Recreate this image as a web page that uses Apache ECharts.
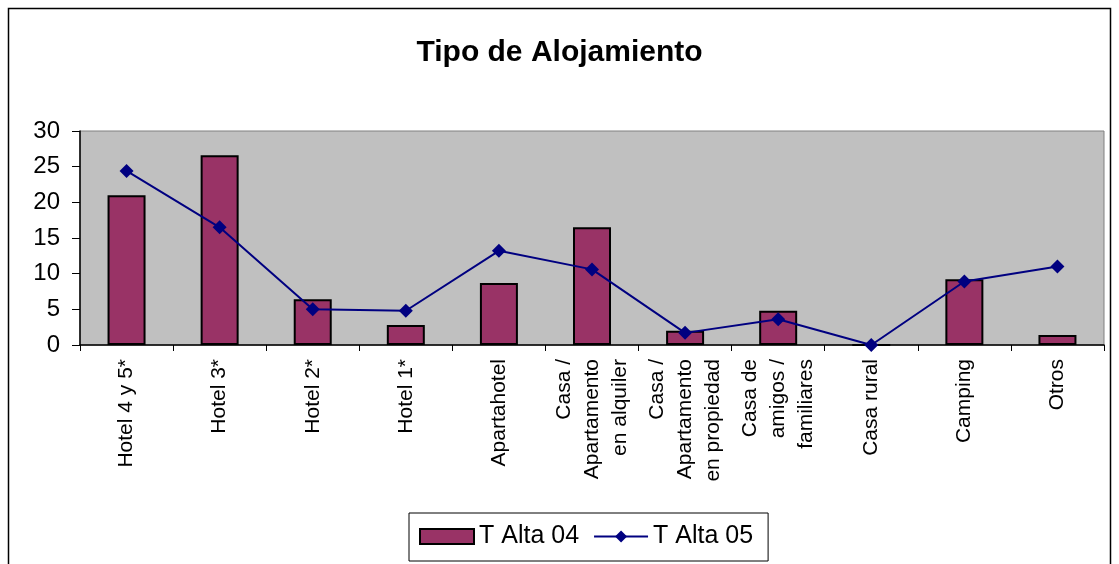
<!DOCTYPE html>
<html>
<head>
<meta charset="utf-8">
<script src="https://cdn.jsdelivr.net/npm/echarts@6/dist/echarts.min.js"></script>
<style>
  html, body { margin: 0; padding: 0; background: #fff; }
  #main { width: 1119px; height: 564px; }
</style>
</head>
<body>
<div id="main"></div>
<script>
// categories (wrapped like the original axis labels)
var categories = [
  "Hotel 4 y 5*",
  "Hotel 3*",
  "Hotel 2*",
  "Hotel 1*",
  "Apartahotel",
  "Casa /\nApartamento\nen alquiler",
  "Casa /\nApartamento\nen propiedad",
  "Casa de\namigos /\nfamiliares",
  "Casa rural",
  "Camping",
  "Otros"
];
var altaTemporada04 = [21.0, 26.6, 6.4, 2.8, 8.7, 16.5, 2.0, 4.8, 0, 9.2, 1.4];
var altaTemporada05 = [24.4, 16.5, 5.0, 4.8, 13.2, 10.6, 1.7, 3.6, 0, 8.9, 11.0];

var fontName = "'Liberation Sans', Arial, sans-serif";

var chart = echarts.init(document.getElementById('main'));

var option = {
  animation: false,
  textStyle: { fontFamily: fontName, color: '#000' },
  title: {
    text: 'Tipo de Alojamiento',
    left: 'center',
    top: 33,
    textStyle: { fontFamily: fontName, fontSize: 30, fontWeight: 'bold', color: '#000' }
  },
  graphic: [{
    type: 'rect',
    shape: { x: 8.5, y: 8.5, width: 1102, height: 570 },
    style: { fill: 'none', stroke: '#000', lineWidth: 1.5 },
    silent: true,
    z: -10
  }],
  legend: {
    left: 409,
    top: 513,
    padding: [11, 15, 12, 10],
    backgroundColor: '#fff',
    borderColor: '#000',
    borderWidth: 1,
    itemWidth: 54,
    itemHeight: 15,
    itemGap: 14,
    textStyle: { fontFamily: fontName, fontSize: 25, color: '#000' },
    data: [{ name: 'T Alta 04', icon: 'rect' }, 'T Alta 05']
  },
  grid: {
    left: 80,
    right: 15,
    top: 131,
    bottom: 219,
    show: true,
    backgroundColor: '#C0C0C0',
    borderColor: '#808080',
    borderWidth: 1
  },
  xAxis: {
    type: 'category',
    data: categories,
    axisLine: { lineStyle: { color: '#000', width: 1.5 } },
    axisTick: { show: true, length: 6, lineStyle: { color: '#000' } },
    axisLabel: {
      rotate: 90,
      interval: 0,
      margin: 14,
      fontFamily: fontName,
      fontSize: 21,
      lineHeight: 28,
      color: '#000'
    },
    splitLine: { show: false }
  },
  yAxis: {
    type: 'value',
    min: 0,
    max: 30,
    interval: 5,
    axisLine: { show: true, lineStyle: { color: '#000', width: 1.5 } },
    axisTick: { show: true, length: 8, lineStyle: { color: '#000' } },
    axisLabel: { fontFamily: fontName, fontSize: 24, color: '#000', margin: 20 },
    splitLine: { show: false }
  },
  series: [
    {
      name: 'T Alta 04',
      type: 'bar',
      data: altaTemporada04,
      barWidth: 38,
      itemStyle: { color: '#993366', borderColor: '#000', borderWidth: 2 }
    },
    {
      name: 'T Alta 05',
      type: 'line',
      data: altaTemporada05,
      symbol: 'diamond',
      symbolSize: 14,
      lineStyle: { color: '#000080', width: 2 },
      itemStyle: { color: '#000080' }
    }
  ]
};

chart.setOption(option);
</script>
</body>
</html>
